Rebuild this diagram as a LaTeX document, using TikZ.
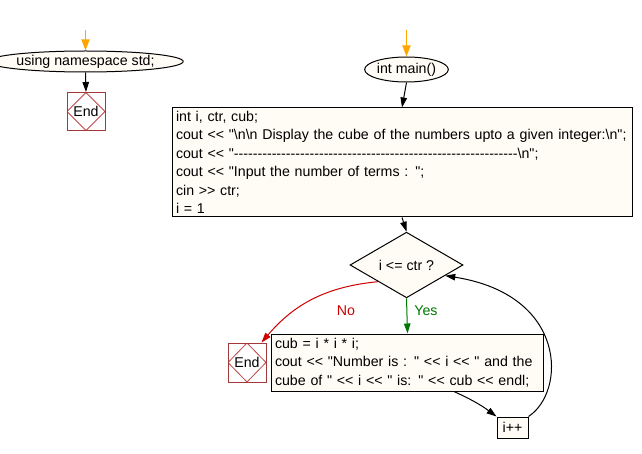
\documentclass[tikz,border=0pt]{standalone}
\usepackage{fontspec}
\setmainfont{Liberation Sans}[Ligatures=TeXOff]
\usetikzlibrary{shapes.geometric,arrows.meta,calc}
\definecolor{cream}{HTML}{FFFBF5}
\definecolor{endred}{HTML}{A33A3A}
\definecolor{diared}{HTML}{C04848}
\definecolor{noRed}{HTML}{CC0000}
\definecolor{yesGreen}{HTML}{007700}
\definecolor{startOrange}{HTML}{FFA500}
\begin{document}
\begin{tikzpicture}[x=1pt,y=-1pt,
  font=\fontsize{14.2}{18.5}\selectfont,
  arr/.style={-{Triangle[length=10pt,width=6.5pt]}, line width=1pt},
  startarr/.style={-{Triangle[length=11pt,width=8pt]}, line width=1.8pt, draw=startOrange},
  term/.style={ellipse, draw, fill=cream, inner sep=0pt, line width=1pt},
  proc/.style={rectangle, draw, fill=cream, line width=1pt, align=left, inner sep=0pt},
  decide/.style={diamond, draw, fill=cream, inner sep=0pt, line width=1pt},
  endbox/.style={rectangle, draw=endred, fill=white, minimum width=38pt, minimum height=38pt, inner sep=0pt, line width=1pt,
    path picture={\draw[diared, line width=0.8pt] (path picture bounding box.north) -- (path picture bounding box.east) -- (path picture bounding box.south) -- (path picture bounding box.west) -- cycle;}}]
\useasboundingbox (0,0) rectangle (642,454);

% left part
\coordinate (s1) at (85.5,30);
\node[term, minimum width=161pt, minimum height=21pt] (ns) at (85.5,61.5) {using namespace std;};
\node[endbox] (e1) at (86,111.5) {End};

% main part
\coordinate (s2) at (406.5,30);
\node[term, minimum width=81pt, minimum height=25pt] (mn) at (406.5,69.5) {int main()};
\node[proc, minimum width=460pt, minimum height=109pt, text width=452pt] (b1) at (402,162.5) {int i, ctr, cub;\\
cout << "\textbackslash n\textbackslash n Display the cube of the numbers upto a given integer:\textbackslash n";\\
cout << "------------------------------------------------------------\textbackslash n";\\
cout << "Input the number of terms : ";\\
cin >> ctr;\\
i = 1};
\node[decide, minimum width=113pt, minimum height=44pt] (dia) at (406.5,265) {i <= ctr ?};
\node[proc, minimum width=272pt, minimum height=57pt, text width=265pt] (b2) at (407.5,362.5) {cub = i * i * i;\\
cout << "Number is : " << i << " and the\\
cube of " << i << " is: " << cub << endl;};
\node[endbox, minimum height=39pt] (e2) at (247,362.5) {End};
\node[proc, minimum width=31pt, minimum height=21pt, align=center] (inc) at (512.5,427.5) {i++};

\node[text=noRed] (no) at (346,311) {No};
\node[text=yesGreen] (yes) at (426,311) {Yes};

% connectors
\draw[startarr] (s1) -- (ns.north);
\draw[arr] (ns.south) -- (e1.north);
\draw[startarr] (s2) -- (mn.north);
\draw[arr] (mn.south) -- (b1.north);
\draw[arr] (b1.south) -- (dia.north);
\draw[arr, draw=yesGreen] (dia.south) -- (b2.north);
\draw[arr, draw=noRed] (dia.south west) to[bend right=22] ($(e2.north east)+(-5,0)$);
\draw[arr] ($(b2.south)!0.34!(b2.south east)$) to[bend left=6] (inc.north west);
\draw[arr] (inc.north east) .. controls (566,392) and (568,295) .. ($(dia.east)!0.32!(dia.south)$);
\end{tikzpicture}
\end{document}
